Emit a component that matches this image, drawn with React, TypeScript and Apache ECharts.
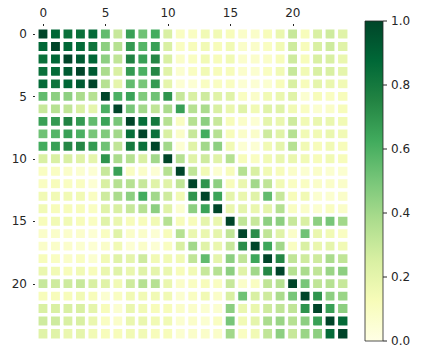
import React, { useEffect, useRef } from "react";
import * as echarts from "echarts";

const colCategories = ["0","1","2","3","4","5","6","7","8","9","10","11","12","13","14","15","16","17","18","19","20","21","22","23","24"];
const rowCategories = ["0","1","2","3","4","5","6","7","8","9","10","11","12","13","14","15","16","17","18","19","20","21","22","23","24"];
const tickLabels = ["0", "5", "10", "15", "20"];
const colorbarTicks = [0, 0.2, 0.4, 0.6, 0.8, 1.0];
const ylgn = ["#ffffe5", "#f7fcb9", "#d9f0a3", "#addd8e", "#78c679", "#41ab5d", "#238443", "#006837", "#004529"];

const matrix: number[][] = [
  [1, 0.88, 0.84, 0.84, 0.86, 0.55, 0.3, 0.66, 0.52, 0.62, 0.25, 0.1, 0.1, 0.15, 0.15, 0.12, 0.08, 0.08, 0.12, 0.18, 0.3, 0.12, 0.25, 0.28, 0.22],
  [0.88, 1, 0.88, 0.86, 0.82, 0.45, 0.35, 0.68, 0.58, 0.66, 0.25, 0.1, 0.12, 0.15, 0.12, 0.15, 0.08, 0.08, 0.1, 0.15, 0.28, 0.12, 0.25, 0.28, 0.22],
  [0.84, 0.88, 1, 0.92, 0.88, 0.45, 0.32, 0.76, 0.66, 0.74, 0.25, 0.08, 0.1, 0.15, 0.12, 0.15, 0.07, 0.07, 0.08, 0.12, 0.28, 0.12, 0.25, 0.25, 0.18],
  [0.84, 0.86, 0.92, 1, 0.92, 0.38, 0.25, 0.68, 0.6, 0.74, 0.22, 0.06, 0.1, 0.15, 0.12, 0.12, 0.07, 0.06, 0.1, 0.15, 0.3, 0.15, 0.25, 0.25, 0.2],
  [0.86, 0.82, 0.88, 0.92, 1, 0.35, 0.2, 0.55, 0.5, 0.68, 0.2, 0.05, 0.05, 0.1, 0.1, 0.1, 0.05, 0.05, 0.06, 0.12, 0.25, 0.12, 0.2, 0.18, 0.15],
  [0.55, 0.45, 0.45, 0.38, 0.35, 1, 0.6, 0.65, 0.48, 0.52, 0.7, 0.3, 0.25, 0.28, 0.22, 0.22, 0.1, 0.08, 0.15, 0.18, 0.22, 0.06, 0.12, 0.1, 0.12],
  [0.3, 0.35, 0.32, 0.25, 0.2, 0.6, 1, 0.5, 0.4, 0.32, 0.38, 0.66, 0.35, 0.38, 0.25, 0.18, 0.22, 0.15, 0.22, 0.22, 0.15, 0.1, 0.06, 0.08, 0.12],
  [0.66, 0.68, 0.76, 0.68, 0.55, 0.65, 0.5, 1, 0.85, 0.8, 0.35, 0.1, 0.35, 0.45, 0.3, 0.12, 0.08, 0.05, 0.2, 0.18, 0.28, 0.15, 0.18, 0.18, 0.15],
  [0.52, 0.58, 0.66, 0.6, 0.5, 0.48, 0.4, 0.85, 1, 0.84, 0.25, 0.08, 0.3, 0.62, 0.35, 0.12, 0.08, 0.08, 0.28, 0.22, 0.35, 0.15, 0.15, 0.18, 0.15],
  [0.62, 0.66, 0.74, 0.74, 0.68, 0.52, 0.32, 0.8, 0.84, 1, 0.4, 0.05, 0.22, 0.4, 0.45, 0.15, 0.05, 0.05, 0.15, 0.2, 0.35, 0.15, 0.12, 0.15, 0.12],
  [0.25, 0.25, 0.25, 0.22, 0.2, 0.7, 0.38, 0.35, 0.25, 0.4, 1, 0.35, 0.22, 0.28, 0.22, 0.35, 0.12, 0.1, 0.15, 0.18, 0.18, 0.15, 0.12, 0.15, 0.12],
  [0.1, 0.1, 0.08, 0.06, 0.05, 0.3, 0.66, 0.1, 0.08, 0.05, 0.35, 1, 0.32, 0.15, 0.06, 0.12, 0.35, 0.25, 0.15, 0.12, 0.08, 0.06, 0.08, 0.06, 0.06],
  [0.1, 0.12, 0.1, 0.1, 0.05, 0.25, 0.35, 0.35, 0.3, 0.22, 0.22, 0.32, 1, 0.7, 0.45, 0.12, 0.18, 0.4, 0.32, 0.15, 0.1, 0.1, 0.08, 0.08, 0.08],
  [0.15, 0.15, 0.15, 0.15, 0.1, 0.28, 0.38, 0.45, 0.62, 0.4, 0.28, 0.15, 0.7, 1, 0.65, 0.2, 0.18, 0.22, 0.55, 0.3, 0.12, 0.15, 0.06, 0.06, 0.08],
  [0.15, 0.12, 0.12, 0.12, 0.1, 0.22, 0.25, 0.3, 0.35, 0.45, 0.22, 0.06, 0.45, 0.65, 1, 0.18, 0.2, 0.18, 0.2, 0.35, 0.1, 0.08, 0.06, 0.1, 0.08],
  [0.12, 0.15, 0.15, 0.12, 0.1, 0.22, 0.18, 0.12, 0.12, 0.15, 0.35, 0.12, 0.12, 0.2, 0.18, 1, 0.32, 0.3, 0.45, 0.45, 0.3, 0.25, 0.45, 0.5, 0.4],
  [0.08, 0.08, 0.07, 0.07, 0.05, 0.1, 0.22, 0.08, 0.08, 0.05, 0.12, 0.35, 0.18, 0.18, 0.2, 0.32, 1, 0.72, 0.32, 0.22, 0.08, 0.52, 0.18, 0.15, 0.1],
  [0.08, 0.08, 0.07, 0.06, 0.05, 0.08, 0.15, 0.05, 0.08, 0.05, 0.1, 0.25, 0.4, 0.22, 0.18, 0.3, 0.72, 1, 0.64, 0.4, 0.1, 0.25, 0.18, 0.2, 0.15],
  [0.12, 0.1, 0.08, 0.1, 0.06, 0.15, 0.22, 0.2, 0.28, 0.15, 0.15, 0.15, 0.32, 0.55, 0.2, 0.45, 0.32, 0.64, 1, 0.74, 0.32, 0.28, 0.28, 0.38, 0.32],
  [0.18, 0.15, 0.12, 0.15, 0.12, 0.18, 0.22, 0.18, 0.22, 0.2, 0.18, 0.12, 0.15, 0.3, 0.35, 0.45, 0.22, 0.4, 0.74, 1, 0.35, 0.38, 0.32, 0.42, 0.45],
  [0.3, 0.28, 0.28, 0.3, 0.25, 0.22, 0.15, 0.28, 0.35, 0.35, 0.18, 0.08, 0.1, 0.12, 0.1, 0.3, 0.08, 0.1, 0.32, 0.35, 1, 0.5, 0.32, 0.35, 0.3],
  [0.12, 0.12, 0.12, 0.15, 0.12, 0.06, 0.1, 0.15, 0.15, 0.15, 0.15, 0.06, 0.1, 0.15, 0.08, 0.25, 0.52, 0.25, 0.28, 0.38, 0.5, 1, 0.7, 0.45, 0.42],
  [0.25, 0.25, 0.25, 0.25, 0.2, 0.12, 0.06, 0.18, 0.15, 0.12, 0.12, 0.08, 0.08, 0.06, 0.06, 0.45, 0.18, 0.18, 0.28, 0.32, 0.32, 0.7, 1, 0.66, 0.45],
  [0.28, 0.28, 0.25, 0.25, 0.18, 0.1, 0.08, 0.18, 0.18, 0.15, 0.15, 0.06, 0.08, 0.06, 0.1, 0.5, 0.15, 0.2, 0.38, 0.42, 0.35, 0.45, 0.66, 1, 0.86],
  [0.22, 0.22, 0.18, 0.2, 0.15, 0.12, 0.12, 0.15, 0.15, 0.12, 0.12, 0.06, 0.08, 0.08, 0.08, 0.4, 0.1, 0.15, 0.32, 0.45, 0.3, 0.42, 0.45, 0.86, 1],
];

export default function App() {
  const ref = useRef<HTMLDivElement>(null);
  useEffect(() => {
    const chart = echarts.init(ref.current!, null, { renderer: "svg" });
    const data: number[][] = [];
    matrix.forEach((row, i) => row.forEach((v, j) => data.push([j, i, v])));
    const font = { fontFamily: "DejaVu Sans", fontSize: 12, color: "#262626" };
    const cbX = 365, cbY = 21, cbW = 18, cbH = 320;
    const showIdx = (idx: number) => tickLabels.includes(colCategories[idx]);
    const graphics: any[] = [
      {
        type: "rect",
        shape: { x: cbX, y: cbY, width: cbW, height: cbH },
        style: {
          fill: new echarts.graphic.LinearGradient(0, 1, 0, 0,
            ylgn.map((c, k) => ({ offset: k / (ylgn.length - 1), color: c }))),
          stroke: "#262626",
          lineWidth: 0.8,
        },
      },
      ...colorbarTicks.map((t) => ({
        type: "line",
        shape: { x1: cbX + cbW, y1: cbY + cbH - t * cbH, x2: cbX + cbW + 4, y2: cbY + cbH - t * cbH },
        style: { stroke: "#262626", lineWidth: 1 },
      })),
      ...colorbarTicks.map((t) => ({
        type: "text",
        x: cbX + cbW + 8,
        y: cbY + cbH - t * cbH,
        style: {
          text: t.toFixed(1),
          fill: "#262626",
          fontSize: 12,
          fontFamily: "DejaVu Sans",
          verticalAlign: "middle",
          align: "left",
        },
      })),
    ];
    chart.setOption({
      animation: false,
      backgroundColor: "#ffffff",
      grid: { left: 37, top: 28, width: 312, height: 312 },
      xAxis: {
        type: "category",
        data: colCategories,
        position: "top",
        axisLine: { show: false },
        axisTick: { show: true, alignWithLabel: true, length: 4, interval: (i: number) => showIdx(i), lineStyle: { color: "#262626" } },
        axisLabel: { ...font, margin: 9, interval: (i: number) => showIdx(i) },
        splitLine: { show: false },
      },
      yAxis: {
        type: "category",
        data: rowCategories,
        inverse: true,
        axisLine: { show: false },
        axisTick: { show: true, alignWithLabel: true, length: 4, interval: (i: number) => showIdx(i), lineStyle: { color: "#262626" } },
        axisLabel: { ...font, margin: 10, interval: (i: number) => showIdx(i) },
        splitLine: { show: false },
      },
      visualMap: {
        show: false,
        min: 0,
        max: 1,
        dimension: 2,
        seriesIndex: 0,
        inRange: { color: ylgn },
      },
      graphic: graphics,
      series: [
        {
          type: "heatmap",
          data,
          itemStyle: { borderColor: "#ffffff", borderWidth: 3.6 },
          emphasis: { disabled: true },
        },
      ],
    });
    return () => chart.dispose();
  }, []);
  return <div ref={ref} style={{ position: "fixed", left: 0, top: 0, width: 423, height: 353 }} />;
}
